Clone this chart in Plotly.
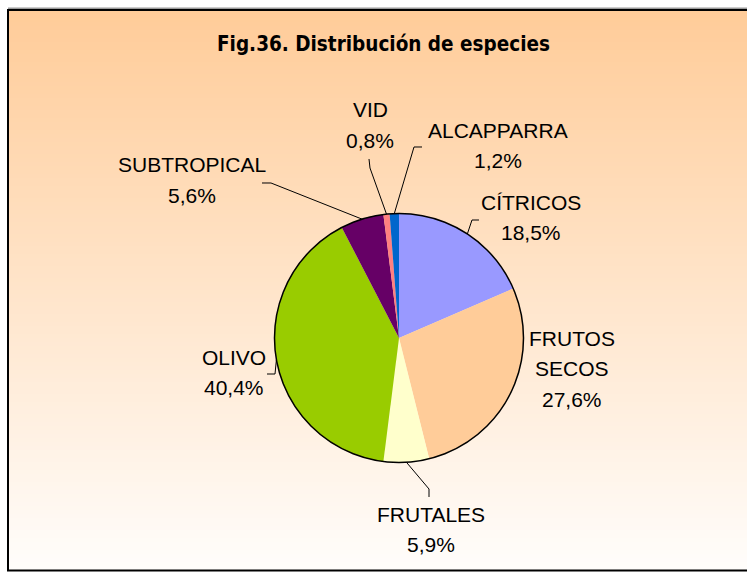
import math
import plotly.graph_objects as go

# Species distribution (percent of surface), clockwise from 12 o'clock
species = ["CÍTRICOS", "FRUTOS SECOS", "FRUTALES", "OLIVO", "SUBTROPICAL", "VID", "ALCAPPARRA"]
shares = [18.5, 27.6, 5.9, 40.4, 5.6, 0.8, 1.2]
colors = ["#9999FF", "#FFCC99", "#FFFFCC", "#99CC00", "#660066", "#FF8080", "#0066CC"]

TITLE = "Fig.36. Distribución de especies"

W, H = 747, 572
CX, CY, R = 399.0, 338.0, 124.5          # pie centre and radius in pixels

# label block centres (pixels) and leader-line bends after the slice edge
label_pos = {
    "CÍTRICOS": (531, 202),
    "FRUTOS SECOS": (572, 338),
    "FRUTALES": (431, 514),
    "OLIVO": (234, 357),
    "SUBTROPICAL": (192, 165),
    "VID": (370, 110),
    "ALCAPPARRA": (498, 130),
}
leader_bends = {
    "CÍTRICOS": [(472, 220), (479, 220)],
    "FRUTOS SECOS": None,
    "FRUTALES": [(429, 489), (429, 497)],
    "OLIVO": [(275, 374), (267, 374)],
    "SUBTROPICAL": [(271, 183), (262, 183)],
    "VID": [(370, 168), (369, 159)],
    "ALCAPPARRA": [(414, 147), (422, 147)],
}
LINE_GAP = 30.5

def px(x):
    return x / W

def py(y):
    return 1 - y / H

shapes = []

# vertical peach-to-white gradient inside the frame
top_rgb = (255, 204, 153)
bot_rgb = (255, 253, 251)
y_top, y_bot = 10.0, 570.0
n_bands = 140
step = (y_bot - y_top) / n_bands
for i in range(n_bands):
    t = i / (n_bands - 1)
    c = tuple(round(a + (b - a) * t) for a, b in zip(top_rgb, bot_rgb))
    shapes.append(dict(
        type="rect", xref="paper", yref="paper", layer="below",
        x0=px(8), x1=px(760), y0=py(y_top + i * step), y1=py(y_top + (i + 1) * step + 0.6),
        fillcolor=f"rgb{c}", line=dict(width=0),
    ))

# frame with a soft shadow on its top edge
shapes.append(dict(type="line", xref="paper", yref="paper", layer="above",
                   x0=px(8), x1=px(760), y0=py(8.3), y1=py(8.3),
                   line=dict(color="#9a9a9a", width=1.5)))
shapes.append(dict(type="rect", xref="paper", yref="paper", layer="above",
                   x0=px(8), x1=px(760), y0=py(10), y1=py(570.5),
                   line=dict(color="black", width=2), fillcolor="rgba(0,0,0,0)"))

# outer outline of the pie
shapes.append(dict(type="circle", xref="paper", yref="paper", layer="above",
                   x0=px(CX - R), x1=px(CX + R), y0=py(CY + R), y1=py(CY - R),
                   line=dict(color="black", width=1.5)))

# leader lines from the middle of each slice edge
total = sum(shares)
cum = 0.0
annotations = []
for name, v in zip(species, shares):
    mid = (cum + v / 2) / total * 2 * math.pi
    cum += v
    ex, ey = CX + R * math.sin(mid), CY - R * math.cos(mid)
    bends = leader_bends[name]
    if bends:
        pts = [(ex, ey)] + bends
        path = "M " + " L ".join(f"{px(x):.5f},{py(y):.5f}" for x, y in pts)
        shapes.append(dict(type="path", xref="paper", yref="paper", layer="above",
                           path=path, line=dict(color="black", width=1)))
    lines = name.split(" ") + [f"{v:.1f}".replace(".", ",") + "%"]
    lx, ly = label_pos[name]
    for k, txt in enumerate(lines):
        annotations.append(dict(
            xref="paper", yref="paper", x=px(lx), y=py(ly + k * LINE_GAP),
            xanchor="center", yanchor="middle", showarrow=False, text=txt,
            font=dict(family="Liberation Sans, Arial, sans-serif", size=21, color="black"),
        ))

annotations.append(dict(
    xref="paper", yref="paper", x=px(383.5), y=py(44), xanchor="center", yanchor="middle",
    showarrow=False, text=f"<b>{TITLE}</b>",
    font=dict(family="Liberation Sans Narrow, DejaVu Sans Condensed, sans-serif",
              size=20.5, color="black"),
))

fig = go.Figure(go.Pie(
    labels=species, values=shares, sort=False, direction="clockwise", rotation=0,
    marker=dict(colors=colors, line=dict(width=0)),
    textinfo="none", hoverinfo="label+percent", showlegend=False,
    domain=dict(x=[px(CX - R), px(CX + R)], y=[py(CY + R), py(CY - R)]),
))

fig.update_layout(
    width=W, height=H, margin=dict(l=0, r=0, t=0, b=0),
    paper_bgcolor="white", plot_bgcolor="white",
    shapes=shapes, annotations=annotations,
)

fig.write_html("out.html")
